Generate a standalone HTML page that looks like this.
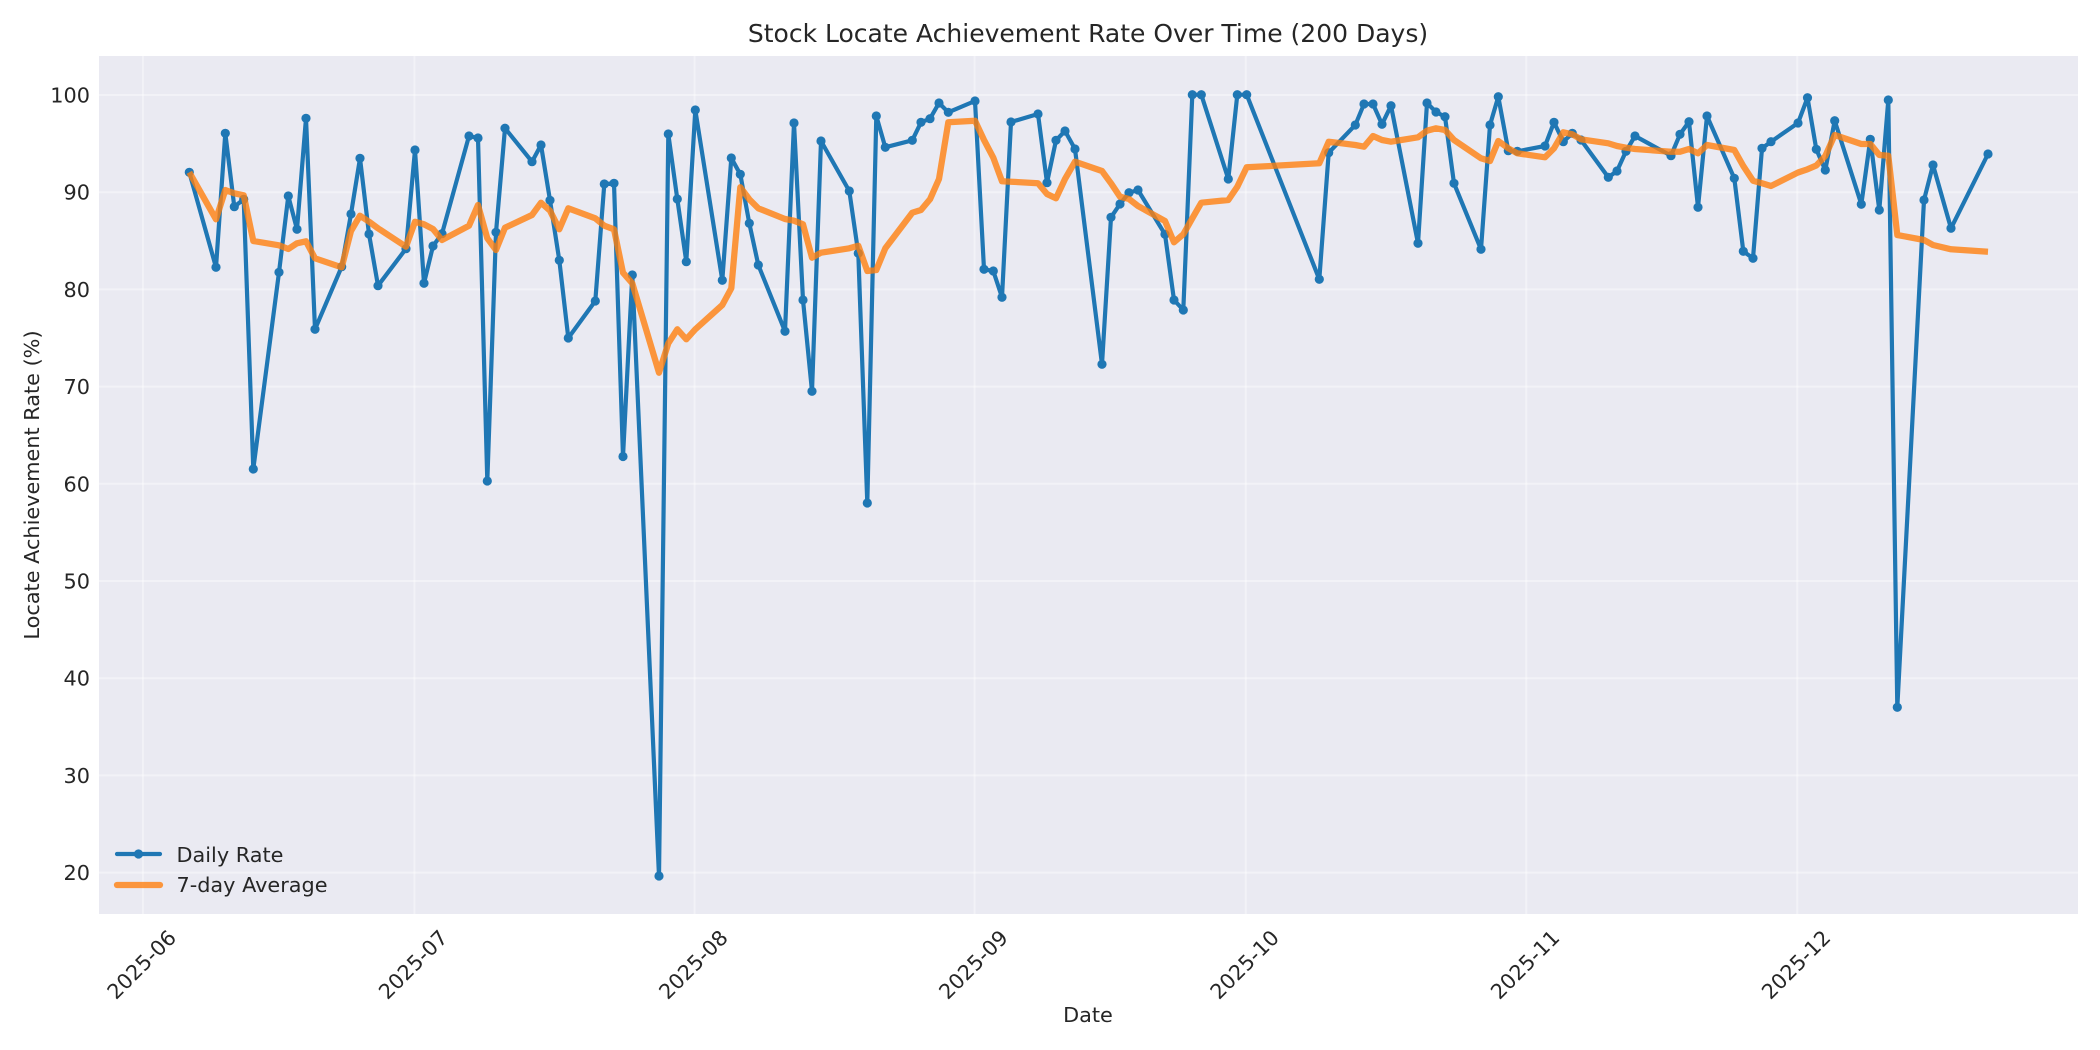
<!DOCTYPE html>
<html>
<head>
<meta charset="utf-8">
<style>
  html, body { margin: 0; padding: 0; background: #ffffff; }
  svg { display: block; }
  text { font-family: "DejaVu Sans", "Liberation Sans", sans-serif; fill: #262626; }
</style>
</head>
<body>
<svg width="2100" height="1050" viewBox="0 0 2100 1050" xmlns="http://www.w3.org/2000/svg">
  <defs>
    <marker id="dot" markerUnits="userSpaceOnUse" markerWidth="12" markerHeight="12" refX="6" refY="6">
      <circle cx="6" cy="6" r="4.6" fill="#1f77b4"/>
    </marker>
    <clipPath id="clip"><rect x="99" y="56" width="1979" height="858"/></clipPath>
  </defs>

  <rect x="0" y="0" width="2100" height="1050" fill="#ffffff"/>
  <rect x="99" y="56" width="1979" height="858" fill="#eaeaf2"/>

  <g stroke="#ffffff" stroke-opacity="0.4" stroke-width="2">
    <line x1="99" x2="2078" y1="95" y2="95"/>
    <line x1="99" x2="2078" y1="192.2" y2="192.2"/>
    <line x1="99" x2="2078" y1="289.4" y2="289.4"/>
    <line x1="99" x2="2078" y1="386.6" y2="386.6"/>
    <line x1="99" x2="2078" y1="483.8" y2="483.8"/>
    <line x1="99" x2="2078" y1="581" y2="581"/>
    <line x1="99" x2="2078" y1="678.2" y2="678.2"/>
    <line x1="99" x2="2078" y1="775.4" y2="775.4"/>
    <line x1="99" x2="2078" y1="872.6" y2="872.6"/>
    <line y1="56" y2="914" x1="142.9" x2="142.9"/>
    <line y1="56" y2="914" x1="414.4" x2="414.4"/>
    <line y1="56" y2="914" x1="694.6" x2="694.6"/>
    <line y1="56" y2="914" x1="974.6" x2="974.6"/>
    <line y1="56" y2="914" x1="1245.8" x2="1245.8"/>
    <line y1="56" y2="914" x1="1526.3" x2="1526.3"/>
    <line y1="56" y2="914" x1="1797.3" x2="1797.3"/>
  </g>

  <g clip-path="url(#clip)">
    <polyline fill="none" stroke="#1f77b4" stroke-width="4.2" stroke-linejoin="round" stroke-linecap="butt"
      marker-start="url(#dot)" marker-mid="url(#dot)" marker-end="url(#dot)"
      points="189.3,172.3 216,267.3 225.3,133.3 234.3,206.7 243.7,199.3 253.3,469 279,272.3 288.3,196 297,229.3 306,118.3 315,329.3 341.7,266.7 351,214 360,158.3 369,234 378,285.7 406,248.7 415,150 424,283.3 433,246 442,233.7 469,136 478,138 487.3,481 496,232.3 505,128.2 532,161.7 541,145 550,200.3 559.3,260.3 568.3,338 595.3,301 604.3,184 614,183.3 623,456.5 632.3,275 659,876 668.3,134 677.3,199 686.3,261.7 695.3,110 722.3,280.3 731.3,158 740.3,174.3 749.3,223.3 758.3,265 785,331.3 794,123 803,300 812,391.3 821,141 849.3,191 858.3,253.3 867.3,503 876.3,116 885.3,147.3 912.3,140.3 921,122.3 930,118.7 939,103 948.3,112.3 975,101 984,269.3 993.3,271 1002,297.3 1011,122 1038,114 1047,182.7 1056,140.3 1065,131 1075,149 1102,364.3 1111,217.3 1120,204 1129,192.7 1138,190 1165,234.3 1174,300 1183.3,310 1192.3,94.7 1201.3,94.7 1228.3,179 1237.3,94.7 1246.7,94.7 1319.3,279.3 1328.7,152.7 1355.3,125 1364,104 1373,104 1382,124.3 1391,105.7 1418,243.3 1427,103 1436,112 1445,116.7 1454,183.3 1481,249.3 1490,125 1498.3,96.7 1508.3,150.7 1517.3,151.3 1545,146 1554,122.3 1563.3,141.7 1572.3,133.3 1581,140 1608.3,177.3 1617,171 1626,151.3 1635,136 1671,155.7 1680,134.3 1689,121.7 1698,207.3 1707,116 1734.3,178.3 1743.3,251.3 1753,258.3 1762,148.3 1771,141.7 1798,123 1807.5,97.7 1816.3,149.3 1825.3,170 1834.7,120.7 1861.3,204.3 1870.3,139.3 1879.3,210 1888.3,100 1897.3,707.3 1924,200 1933,165 1951,228.3 1988,154"/>

    <polyline fill="none" stroke="#ff7f0e" stroke-opacity="0.8" stroke-width="6.25" stroke-linejoin="round" stroke-linecap="butt"
      points="189.3,172.3 216,219.3 225.3,190 234.3,193.3 243.7,195.3 253.3,241 279,245.3 288.3,249 297,243.3 306,241.3 315,258.3 341.7,267.3 351,231 360,215.7 369,221.7 378,228.3 406,246.7 415,221.7 424,224.3 433,229 442,240 469,225.7 478,205 487.3,238.3 496,250 505,227.7 532,215 541,202.7 550,210.7 559.3,229.3 568.3,208.3 595.3,218.3 604.3,225.7 614,229.3 623,272.7 632.3,283.3 659,372.7 668.3,343.3 677.3,329.3 686.3,339.3 695.3,329.3 722.3,305 731.3,288.3 740.3,187.3 749.3,199.3 758.3,208.3 785,219 794,220.7 803,224.3 812,257.7 821,252.7 849.3,248.3 858.3,245.7 867.3,271 876.3,270 885.3,248.3 912.3,212.7 921,210 930,199.3 939,179 948.3,122.3 975,120.7 984,140 993.3,157.7 1002,181.3 1011,181.7 1038,183.3 1047,194 1056,198.3 1065,179 1075,161.7 1102,171 1111,183.3 1120,196.7 1129,199 1138,206 1165,221 1174,242.3 1183.3,234.3 1192.3,218.3 1201.3,202.7 1228.3,200 1237.3,186.7 1246.7,167.3 1319.3,163.3 1328.7,141.7 1355.3,145 1364,146.7 1373,136 1382,140 1391,141.7 1418,137.3 1427,130.7 1436,128.3 1445,130 1454,140 1481,158.3 1490,161 1498.3,141 1508.3,148.3 1517.3,153.3 1545,157.3 1554,148.3 1563.3,132.3 1572.3,134.3 1581,139.3 1608.3,143.3 1617,146 1626,147.7 1635,149 1671,151.7 1680,151.7 1689,149 1698,153.3 1707,145 1734.3,150 1743.3,166 1753,180.7 1762,183.3 1771,186 1798,172.5 1807.5,169.3 1816.3,165.5 1825.3,156 1834.7,135 1861.3,144 1870.3,144 1879.3,155 1888.3,155.7 1897.3,235 1924,240 1933,245 1951,249.3 1988,251.7"/>
  </g>

  <text x="1088" y="42" font-size="25" text-anchor="middle">Stock Locate Achievement Rate Over Time (200 Days)</text>

  <g font-size="20.8" text-anchor="end">
    <text x="90" y="102.5">100</text>
    <text x="90" y="199.7">90</text>
    <text x="90" y="296.9">80</text>
    <text x="90" y="394.1">70</text>
    <text x="90" y="491.3">60</text>
    <text x="90" y="588.5">50</text>
    <text x="90" y="685.7">40</text>
    <text x="90" y="782.9">30</text>
    <text x="90" y="880.1">20</text>
  </g>

  <g font-size="20.8" text-anchor="end">
    <text transform="translate(177.5,939) rotate(-45)">2025-06</text>
    <text transform="translate(449,939) rotate(-45)">2025-07</text>
    <text transform="translate(729.2,939) rotate(-45)">2025-08</text>
    <text transform="translate(1009.2,939) rotate(-45)">2025-09</text>
    <text transform="translate(1280.4,939) rotate(-45)">2025-10</text>
    <text transform="translate(1560.9,939) rotate(-45)">2025-11</text>
    <text transform="translate(1831.9,939) rotate(-45)">2025-12</text>
  </g>

  <text x="1088" y="1022" font-size="20.8" text-anchor="middle">Date</text>
  <text transform="translate(39,485) rotate(-90)" font-size="20.8" text-anchor="middle">Locate Achievement Rate (%)</text>

  <line x1="117" y1="854" x2="160" y2="854" stroke="#1f77b4" stroke-width="4.2" stroke-linecap="round"/>
  <circle cx="138.5" cy="854" r="4.6" fill="#1f77b4"/>
  <text x="176.5" y="862" font-size="20.8">Daily Rate</text>
  <line x1="117" y1="885" x2="160" y2="885" stroke="#ff7f0e" stroke-opacity="0.8" stroke-width="6.25" stroke-linecap="round"/>
  <text x="176.5" y="892" font-size="20.8">7-day Average</text>
</svg>
</body>
</html>
